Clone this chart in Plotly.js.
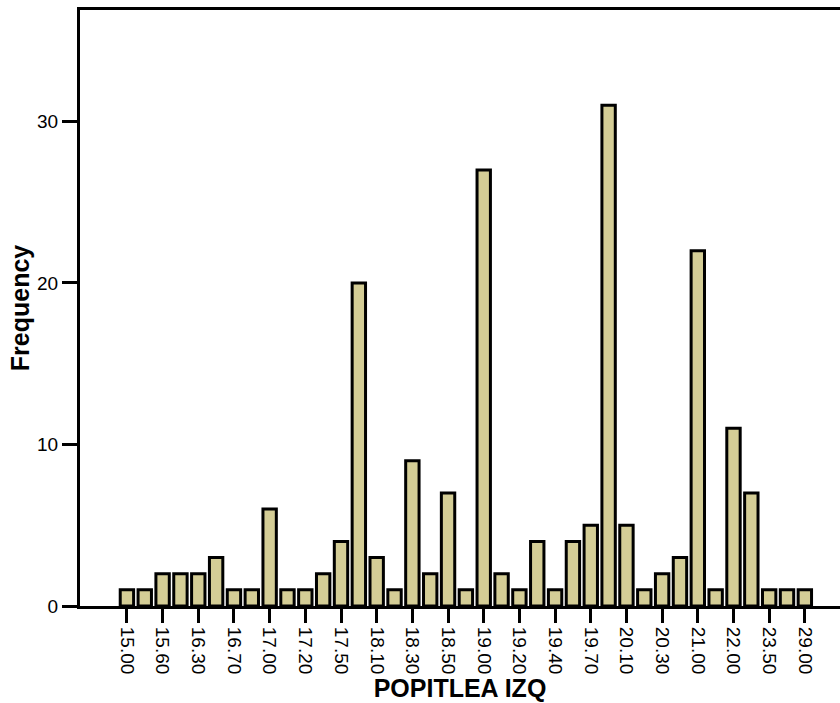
<!DOCTYPE html>
<html>
<head>
<meta charset="utf-8">
<script src="https://cdn.plot.ly/plotly-3.0.1.min.js"></script>
<style>
html, body { margin: 0; padding: 0; background: #ffffff; }
#chart { width: 840px; height: 703px; }
</style>
</head>
<body>
<div id="chart"></div>
<script>
// Category values of POPITLEA IZQ (every other one is labelled on the axis)
const categories = ["15.00","15.50","15.60","16.00","16.30","16.50","16.70","16.80","17.00","17.10",
  "17.20","17.30","17.50","18.00","18.10","18.20","18.30","18.40","18.50","18.80",
  "19.00","19.10","19.20","19.30","19.40","19.50","19.70","20.00","20.10","20.20",
  "20.30","20.50","21.00","21.50","22.00","23.00","23.50","24.00","29.00"];
const frequencies = [1,1,2,2,2,3,1,1,6,1,
  1,2,4,20,3,1,9,2,7,1,
  27,2,1,4,1,4,5,31,5,1,
  2,3,22,1,11,7,1,1,1];
const tickLabels = ["15.00","15.60","16.30","16.70","17.00","17.20","17.50","18.10","18.30","18.50",
  "19.00","19.20","19.40","19.70","20.10","20.30","21.00","22.00","23.50","29.00"];
const yTicks = [0, 10, 20, 30];

const trace = {
  type: 'bar',
  x: categories,
  y: frequencies,
  marker: { color: '#d4cd96', line: { color: '#000000', width: 3 } },
  hoverinfo: 'x+y'
};

const layout = {
  width: 840,
  height: 703,
  margin: { l: 80, r: 0, t: 10, b: 97 },
  paper_bgcolor: '#ffffff',
  plot_bgcolor: '#ffffff',
  showlegend: false,
  bargap: 0.25,
  font: { family: 'Liberation Sans, Arial, sans-serif', color: '#000000', size: 18 },
  xaxis: {
    type: 'category',
    categoryorder: 'array',
    categoryarray: categories,
    range: [-2.63, 39.97],
    tickmode: 'array',
    tickvals: tickLabels,
    ticktext: tickLabels,
    tickangle: 90,
    ticks: 'outside',
    ticklen: 14,
    tickwidth: 3,
    tickcolor: '#000000',
    tickfont: { size: 19 },
    showline: true,
    linewidth: 3,
    linecolor: '#000000',
    mirror: true,
    showgrid: false,
    zeroline: false,
    automargin: false,
    title: { text: 'POPITLEA IZQ', font: { size: 25, family: 'Liberation Sans, Arial, sans-serif', weight: 'bold' }, standoff: 4 }
  },
  yaxis: {
    range: [0, 36.9],
    tickmode: 'array',
    tickvals: yTicks,
    ticktext: yTicks.map(String),
    ticks: 'outside',
    ticklen: 15,
    tickwidth: 3,
    tickcolor: '#000000',
    tickfont: { size: 19 },
    showline: true,
    linewidth: 3,
    linecolor: '#000000',
    mirror: false,
    showgrid: false,
    zeroline: false,
    automargin: false,
    title: { text: 'Frequency', font: { size: 25, family: 'Liberation Sans, Arial, sans-serif', weight: 'bold' }, standoff: 1 }
  }
};

Plotly.newPlot('chart', [trace], layout, { displayModeBar: false, staticPlot: true });
</script>
</body>
</html>
